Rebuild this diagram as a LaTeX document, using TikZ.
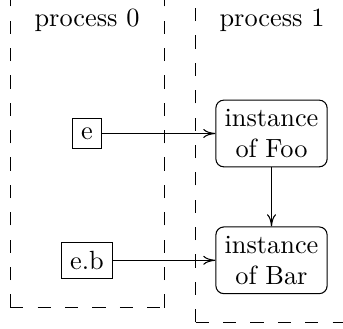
\documentclass[tikz,border=0pt]{standalone}
\usetikzlibrary{arrows.meta}
\begin{document}
\begin{tikzpicture}[x=0.38pt,y=-0.38pt,
  procline/.style={draw=black,line width=0.4pt,dash pattern=on 5pt off 5.4pt},
  plainbox/.style={draw,rectangle,inner sep=3.33pt},
  instbox/.style={draw,rectangle,rounded corners=3pt,align=center,inner sep=3.33pt},
  conn/.style={-{To[length=4.6pt,width=3.4pt]},line width=0.4pt},
  lbl/.style={anchor=base}]
\useasboundingbox (0,0) rectangle (343,329);
\begin{scope}
\clip (0,0) rectangle (343,329);
% process 0 frame
\coordinate (p0bl) at (10.3,307.5);
\coordinate (p0br) at (164.6,307.5);
\coordinate (p0tl) at (10.3,-20);
\coordinate (p0tr) at (164.6,-20);
\draw[procline] (p0bl) -- (p0tl);
\draw[procline] (p0br) -- (p0tr);
\draw[procline] (p0bl) -- (p0br);
% process 1 frame
\coordinate (p1bl) at (195.7,322.3);
\coordinate (p1tl) at (195.7,-20);
\coordinate (p1br) at (360,322.3);
\draw[procline] (p1bl) -- (p1tl);
\draw[procline] (p1bl) -- (p1br);
\end{scope}
\node[lbl] (t0) at (87,26.5) {process 0};
\node[lbl] (t1) at (272,26.5) {process 1};
\node[plainbox] (e) at (87,133.5) {e};
\node[plainbox] (eb) at (87,260.3) {e.b};
\node[instbox] (foo) at (271.5,133.5) {instance\\of Foo};
\node[instbox] (bar) at (271.5,260.3) {instance\\of Bar};
\draw[conn] (e) -- (foo);
\draw[conn] (eb) -- (bar);
\draw[conn] (foo) -- (bar);
\end{tikzpicture}
\end{document}
